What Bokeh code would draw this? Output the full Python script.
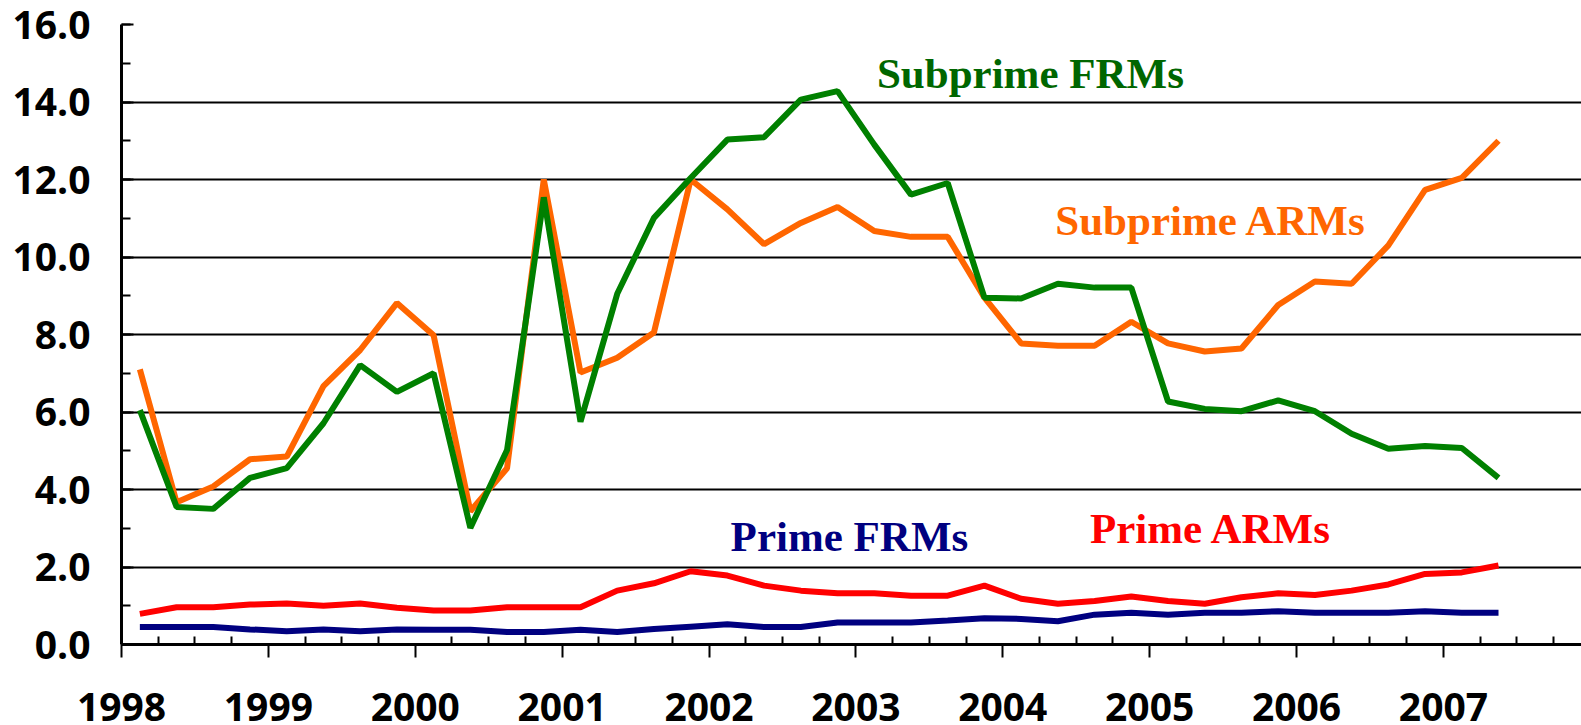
from bokeh.plotting import figure
from bokeh.models import Range1d, FixedTicker, NumeralTickFormatter, Label
from bokeh.embed import file_html
from bokeh.resources import INLINE

# ---- data (quarterly, 1998Q1 .. 2007Q2) ----
quarters = [
    "1998Q1", "1998Q2", "1998Q3", "1998Q4", "1999Q1", "1999Q2", "1999Q3", "1999Q4",
    "2000Q1", "2000Q2", "2000Q3", "2000Q4", "2001Q1", "2001Q2", "2001Q3", "2001Q4",
    "2002Q1", "2002Q2", "2002Q3", "2002Q4", "2003Q1", "2003Q2", "2003Q3", "2003Q4",
    "2004Q1", "2004Q2", "2004Q3", "2004Q4", "2005Q1", "2005Q2", "2005Q3", "2005Q4",
    "2006Q1", "2006Q2", "2006Q3", "2006Q4", "2007Q1", "2007Q2",
]
subprime_frm = [6.05, 3.55, 3.50, 4.30, 4.55, 5.71, 7.21, 6.52, 7.00, 3.01, 5.02, 11.54,
                5.75, 9.05, 11.01, 12.04, 13.03, 13.09, 14.06, 14.28, 12.90, 11.61, 11.91, 8.95,
                8.93, 9.31, 9.21, 9.21, 6.27, 6.08, 6.02, 6.30, 6.02, 5.44, 5.05, 5.12, 5.07, 4.30]
subprime_arm = [7.10, 3.67, 4.08, 4.78, 4.85, 6.67, 7.60, 8.81, 7.98, 3.44, 4.55, 12.00,
                7.02, 7.40, 8.05, 12.00, 11.23, 10.33, 10.88, 11.29, 10.67, 10.52, 10.52, 8.95,
                7.77, 7.71, 7.71, 8.33, 7.77, 7.56, 7.64, 8.76, 9.37, 9.31, 10.30, 11.73, 12.04, 13.00]
prime_arm = [0.79, 0.96, 0.96, 1.03, 1.06, 1.00, 1.06, 0.95, 0.88, 0.88, 0.96, 0.96,
             0.96, 1.39, 1.58, 1.89, 1.78, 1.52, 1.39, 1.32, 1.32, 1.26, 1.26, 1.52,
             1.18, 1.05, 1.12, 1.24, 1.12, 1.05, 1.22, 1.32, 1.28, 1.39, 1.55, 1.82, 1.86, 2.04]
prime_frm = [0.45, 0.45, 0.45, 0.39, 0.34, 0.39, 0.34, 0.39, 0.38, 0.38, 0.32, 0.32,
             0.38, 0.32, 0.40, 0.46, 0.52, 0.45, 0.45, 0.57, 0.57, 0.57, 0.62, 0.68,
             0.66, 0.60, 0.77, 0.82, 0.77, 0.82, 0.82, 0.86, 0.82, 0.82, 0.82, 0.86, 0.82, 0.82]
year_ticks = [1998, 1999, 2000, 2001, 2002, 2003, 2004, 2005, 2006, 2007]
y_ticks = [0, 2, 4, 6, 8, 10, 12, 14, 16]

# quarter -> position in the middle of the quarter on a fractional-year axis
x = [int(q[:4]) + (int(q[5]) - 1) * 0.25 + 0.125 for q in quarters]

p = figure(width=1581, height=725, output_backend="svg", toolbar_location=None,
           x_range=Range1d(1998, 2007.94), y_range=Range1d(0, 16),
           min_border_left=121, min_border_right=0, min_border_top=24, min_border_bottom=81)
p.outline_line_color = None
p.background_fill_color = "white"
p.border_fill_color = "white"

# series
p.line(x, prime_frm, line_color="#000080", line_width=6)
p.line(x, prime_arm, line_color="#FF0000", line_width=6)
p.line(x, subprime_arm, line_color="#FF6600", line_width=6)
p.line(x, subprime_frm, line_color="#008000", line_width=6)

# axes
p.xaxis.ticker = FixedTicker(ticks=year_ticks,
                             minor_ticks=[y + f for y in range(1998, 2008) for f in (0.25, 0.5, 0.75)])
p.yaxis.ticker = FixedTicker(ticks=y_ticks, minor_ticks=list(range(0, 17)))
p.yaxis.formatter = NumeralTickFormatter(format="0.0")

for ax in (p.xaxis[0], p.yaxis[0]):
    ax.axis_line_color = "black"
    ax.axis_line_width = 3
    ax.major_tick_line_color = "black"
    ax.major_tick_line_width = 2
    ax.minor_tick_line_color = "black"
    ax.minor_tick_line_width = 2
    ax.major_label_text_font = "Open Sans"
    ax.major_label_text_font_style = "bold"
    ax.major_label_text_font_size = "39px"
    ax.major_label_text_color = "black"

p.xaxis.major_tick_in = 0
p.xaxis.major_tick_out = 13
p.xaxis.minor_tick_in = 8
p.xaxis.minor_tick_out = 0
p.xaxis.major_label_standoff = 35

p.yaxis.major_tick_in = 12
p.yaxis.major_tick_out = 0
p.yaxis.minor_tick_in = 9
p.yaxis.minor_tick_out = 0
p.yaxis.major_label_standoff = 31

p.xgrid.grid_line_color = None
p.ygrid.grid_line_color = "black"
p.ygrid.grid_line_width = 2

# series labels
label_style = dict(text_font="Liberation Serif", text_font_style="bold", text_font_size="43px",
                   text_align="left", text_baseline="alphabetic")
p.add_layout(Label(x=2003.143, y=14.73, text="Subprime FRMs", text_color="#006600", **label_style))
p.add_layout(Label(x=2004.357, y=10.94, text="Subprime ARMs", text_color="#FF6600", **label_style))
p.add_layout(Label(x=2004.593, y=3.00, text="Prime ARMs", text_color="#FF0000", **label_style))
p.add_layout(Label(x=2002.147, y=2.80, text="Prime FRMs", text_color="#000080", **label_style))

open("out.html", "w").write(file_html(p, INLINE))
